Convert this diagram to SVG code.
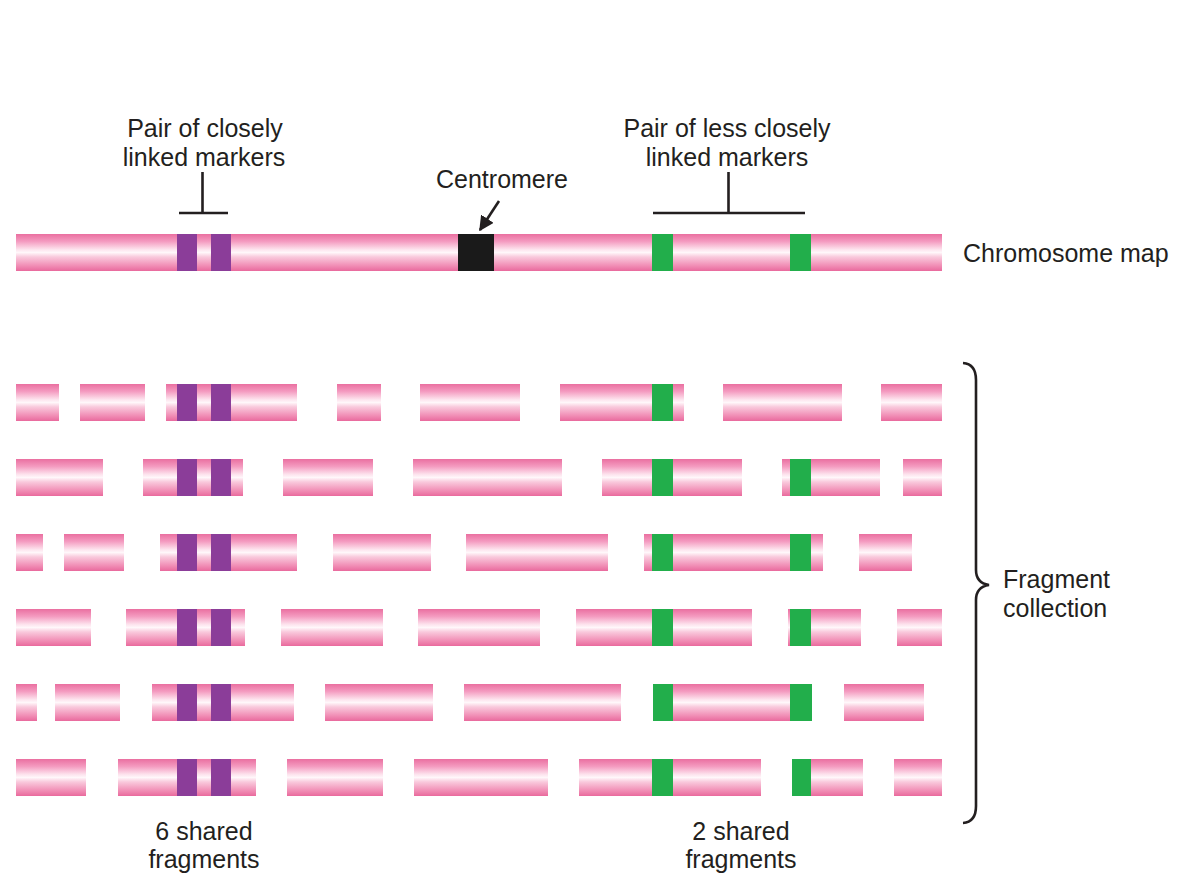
<svg xmlns="http://www.w3.org/2000/svg" width="1192" height="876" viewBox="0 0 1192 876">
<style>
.t{font-family:"Liberation Sans",Arial,sans-serif;font-size:25px;fill:#231f20}
.c{text-anchor:middle}
.tube{fill:url(#tube)}
.p{fill:#8b3d99}
.g{fill:#22ae4b}
.k{fill:#1a1a1a}
.ln{stroke:#231f20;stroke-width:2.6;fill:none}
</style>
<defs>
<linearGradient id="tube" x1="0" y1="0" x2="0" y2="1">
<stop offset="0" stop-color="#ea6fa0"/>
<stop offset="0.2" stop-color="#f49bc0"/>
<stop offset="0.42" stop-color="#fde4ee"/>
<stop offset="0.5" stop-color="#fff7fa"/>
<stop offset="0.62" stop-color="#f9c9dc"/>
<stop offset="0.85" stop-color="#f18fb6"/>
<stop offset="1" stop-color="#e96a9d"/>
</linearGradient>
<marker id="ah" viewBox="0 0 10 10" refX="9" refY="5" markerWidth="15" markerHeight="15" markerUnits="userSpaceOnUse" orient="auto">
<path d="M0,0 L10,5 L0,10 z" fill="#231f20"/>
</marker>
</defs>

<g id="chromosome">
<rect class="tube" x="16" y="234" width="926" height="37"/>
<rect class="p" x="177" y="234" width="20" height="37"/>
<rect class="p" x="211" y="234" width="20" height="37"/>
<rect class="k" x="458" y="234" width="36" height="37"/>
<rect class="g" x="652" y="234" width="21" height="37"/>
<rect class="g" x="790" y="234" width="21" height="37"/>
</g>

<g id="connectors">
<path class="ln" d="M179,213 H228 M202.5,172 V213"/>
<path class="ln" d="M653,213 H805 M728.5,172 V213"/>
<line class="ln" stroke-width="3" x1="499" y1="201" x2="480" y2="230" marker-end="url(#ah)"/>
<path class="ln" stroke-width="2.4" d="M963,363 Q976,364 976,380 L976,570 Q976,583 989,585 Q976,587 976,600 L976,806 Q976,822 963,823"/>
</g>

<g id="labels">
<g id="lbl-close"><text class="t c" x="205" y="137">Pair of closely</text><text class="t c" x="204" y="166">linked markers</text></g>
<g id="lbl-less"><text class="t c" x="727" y="137">Pair of less closely</text><text class="t c" x="727" y="166">linked markers</text></g>
<g id="lbl-centromere"><text class="t c" x="502" y="188">Centromere</text></g>
<g id="lbl-map"><text class="t" x="963" y="262">Chromosome map</text></g>
<g id="lbl-collection"><text class="t" x="1003" y="588">Fragment</text><text class="t" x="1003" y="617">collection</text></g>
<g id="lbl-6"><text class="t c" x="204" y="840">6 shared</text><text class="t c" x="204" y="868">fragments</text></g>
<g id="lbl-2"><text class="t c" x="741" y="840">2 shared</text><text class="t c" x="741" y="868">fragments</text></g>
</g>

<g id="row1">
<g id="r1f1"><rect class="tube" x="16" y="384" width="43" height="37"/></g>
<g id="r1f2"><rect class="tube" x="80" y="384" width="65" height="37"/></g>
<g id="r1f3"><rect class="tube" x="166" y="384" width="131" height="37"/><rect class="p" x="177" y="384" width="20" height="37"/><rect class="p" x="211" y="384" width="20" height="37"/></g>
<g id="r1f4"><rect class="tube" x="337" y="384" width="44" height="37"/></g>
<g id="r1f5"><rect class="tube" x="420" y="384" width="100" height="37"/></g>
<g id="r1f6"><rect class="tube" x="560" y="384" width="124" height="37"/><rect class="g" x="652" y="384" width="21" height="37"/></g>
<g id="r1f7"><rect class="tube" x="723" y="384" width="119" height="37"/></g>
<g id="r1f8"><rect class="tube" x="881" y="384" width="61" height="37"/></g>
</g>

<g id="row2">
<g id="r2f1"><rect class="tube" x="16" y="459" width="87" height="37"/></g>
<g id="r2f2"><rect class="tube" x="143" y="459" width="100" height="37"/><rect class="p" x="177" y="459" width="20" height="37"/><rect class="p" x="211" y="459" width="20" height="37"/></g>
<g id="r2f3"><rect class="tube" x="283" y="459" width="90" height="37"/></g>
<g id="r2f4"><rect class="tube" x="413" y="459" width="149" height="37"/></g>
<g id="r2f5"><rect class="tube" x="602" y="459" width="140" height="37"/><rect class="g" x="652" y="459" width="21" height="37"/></g>
<g id="r2f6"><rect class="tube" x="782" y="459" width="98" height="37"/><rect class="g" x="790" y="459" width="21" height="37"/></g>
<g id="r2f7"><rect class="tube" x="903" y="459" width="39" height="37"/></g>
</g>

<g id="row3">
<g id="r3f1"><rect class="tube" x="16" y="534" width="27" height="37"/></g>
<g id="r3f2"><rect class="tube" x="64" y="534" width="60" height="37"/></g>
<g id="r3f3"><rect class="tube" x="160" y="534" width="137" height="37"/><rect class="p" x="177" y="534" width="20" height="37"/><rect class="p" x="211" y="534" width="20" height="37"/></g>
<g id="r3f4"><rect class="tube" x="333" y="534" width="98" height="37"/></g>
<g id="r3f5"><rect class="tube" x="466" y="534" width="142" height="37"/></g>
<g id="r3f6"><rect class="tube" x="644" y="534" width="179" height="37"/><rect class="g" x="652" y="534" width="21" height="37"/><rect class="g" x="790" y="534" width="21" height="37"/></g>
<g id="r3f7"><rect class="tube" x="859" y="534" width="53" height="37"/></g>
</g>

<g id="row4">
<g id="r4f1"><rect class="tube" x="16" y="609" width="75" height="37"/></g>
<g id="r4f2"><rect class="tube" x="126" y="609" width="119" height="37"/><rect class="p" x="177" y="609" width="20" height="37"/><rect class="p" x="211" y="609" width="20" height="37"/></g>
<g id="r4f3"><rect class="tube" x="281" y="609" width="102" height="37"/></g>
<g id="r4f4"><rect class="tube" x="418" y="609" width="122" height="37"/></g>
<g id="r4f5"><rect class="tube" x="576" y="609" width="176" height="37"/><rect class="g" x="652" y="609" width="21" height="37"/></g>
<g id="r4f6"><rect class="tube" x="788" y="609" width="73" height="37"/><rect class="g" x="790" y="609" width="21" height="37"/></g>
<g id="r4f7"><rect class="tube" x="897" y="609" width="45" height="37"/></g>
</g>

<g id="row5">
<g id="r5f1"><rect class="tube" x="16" y="684" width="21" height="37"/></g>
<g id="r5f2"><rect class="tube" x="55" y="684" width="65" height="37"/></g>
<g id="r5f3"><rect class="tube" x="152" y="684" width="142" height="37"/><rect class="p" x="177" y="684" width="20" height="37"/><rect class="p" x="211" y="684" width="20" height="37"/></g>
<g id="r5f4"><rect class="tube" x="325" y="684" width="108" height="37"/></g>
<g id="r5f5"><rect class="tube" x="464" y="684" width="157" height="37"/></g>
<g id="r5f6"><rect class="tube" x="653" y="684" width="159" height="37"/><rect class="g" x="653" y="684" width="20" height="37"/><rect class="g" x="790" y="684" width="22" height="37"/></g>
<g id="r5f7"><rect class="tube" x="844" y="684" width="80" height="37"/></g>
</g>

<g id="row6">
<g id="r6f1"><rect class="tube" x="16" y="759" width="70" height="37"/></g>
<g id="r6f2"><rect class="tube" x="118" y="759" width="138" height="37"/><rect class="p" x="177" y="759" width="20" height="37"/><rect class="p" x="211" y="759" width="20" height="37"/></g>
<g id="r6f3"><rect class="tube" x="287" y="759" width="96" height="37"/></g>
<g id="r6f4"><rect class="tube" x="414" y="759" width="134" height="37"/></g>
<g id="r6f5"><rect class="tube" x="579" y="759" width="182" height="37"/><rect class="g" x="652" y="759" width="21" height="37"/></g>
<g id="r6f6"><rect class="tube" x="792" y="759" width="71" height="37"/><rect class="g" x="792" y="759" width="19" height="37"/></g>
<g id="r6f7"><rect class="tube" x="894" y="759" width="48" height="37"/></g>
</g>
</svg>
